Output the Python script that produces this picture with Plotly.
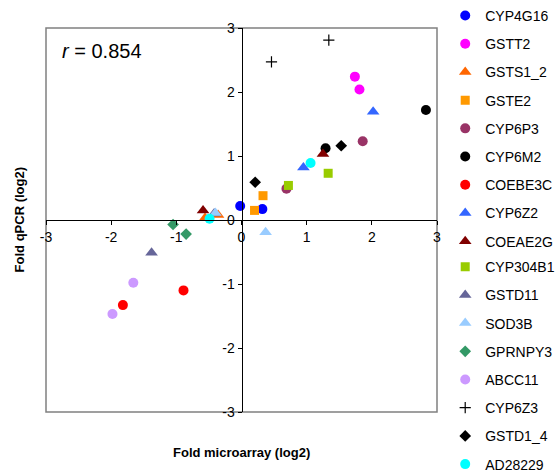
import plotly.graph_objects as go

genes = ["CYP4G16", "GSTT2", "GSTS1_2", "GSTE2", "CYP6P3", "CYP6M2", "COEBE3C",
         "CYP6Z2", "COEAE2G", "CYP304B1", "GSTD11", "SOD3B", "GPRNPY3", "ABCC11",
         "CYP6Z3", "GSTD1_4", "AD28229"]
microarray = [
    [-0.02, 0.32], [1.74, 1.81], [-0.36, -0.56], [0.33, 0.20], [1.86, 0.69],
    [2.83, 1.29], [-1.82, -0.89], [2.02, 0.95], [1.25, -0.59], [0.72, 1.33],
    [-1.38, -0.42], [0.37, -0.40], [-1.05, -0.85], [-1.66, -1.98], [0.46, 1.34],
    [0.21, 1.53], [1.06, -0.49],
]
qpcr = [
    [0.22, 0.17], [2.24, 2.04], [0.08, 0.03], [0.38, 0.15], [1.23, 0.49],
    [1.72, 1.12], [-1.33, -1.10], [1.69, 0.82], [1.03, 0.15], [0.54, 0.73],
    [-0.51, 0.10], [-0.19, 0.11], [-0.07, -0.22], [-0.98, -1.47], [2.47, 2.81],
    [0.59, 1.16], [0.89, 0.02],
]
colors = ["#0000FF", "#FF00FF", "#FF6600", "#FF9900", "#993366", "#000000", "#FF0000",
          "#3366FF", "#800000", "#99CC00", "#666699", "#99CCFF", "#339966", "#CC99FF",
          "#000000", "#000000", "#00FFFF"]
symbols = ["circle", "circle", "triangle-up", "square", "circle", "circle", "circle",
           "triangle-up", "triangle-up", "square", "triangle-up", "triangle-up", "diamond",
           "circle", "cross-thin", "diamond", "circle"]
ticks = [-3, -2, -1, 0, 1, 2, 3]
r_text = "<i>r</i> = 0.854"

font = "Arial, Liberation Sans, sans-serif"
fig = go.Figure()
for i, g in enumerate(genes):
    sym = symbols[i]
    size = {"circle": 10, "triangle-up": 11, "square": 9, "diamond": 9, "cross-thin": 8}[sym]
    marker = dict(symbol=sym, size=size, color=colors[i],
                  line=dict(width=1.2 if sym == "cross-thin" else 0, color=colors[i]))
    fig.add_trace(go.Scatter(x=microarray[i], y=qpcr[i], mode="markers", name=g,
                             legendgroup=g, marker=marker,
                             legend="legend" if i < 9 else "legend2"))

fig.add_shape(type="rect", xref="paper", yref="paper", x0=0, x1=1, y0=0, y1=1,
              line=dict(color="#808080", width=1.5), layer="below")
fig.add_annotation(x=0.035, y=0.94, xref="paper", yref="paper", text=r_text,
                   showarrow=False, xanchor="left", yanchor="middle",
                   font=dict(family=font, size=20, color="black"))
fig.add_annotation(x=0.5, y=-0.08, xref="paper", yref="paper", text="<b>Fold microarray (log2)</b>",
                   showarrow=False, xanchor="center", yanchor="top",
                   font=dict(family=font, size=13, color="black"))
fig.add_annotation(x=-0.068, y=0.5, xref="paper", yref="paper", text="<b>Fold qPCR (log2)</b>",
                   showarrow=False, textangle=-90, xanchor="center", yanchor="middle",
                   font=dict(family=font, size=13, color="black"))

axis_common = dict(range=[-3.0, 3.0], tickvals=ticks, ticktext=[str(t) for t in ticks],
                   showgrid=False, zeroline=False, showline=True, linecolor="black",
                   linewidth=1, ticks="outside", ticklen=4, tickcolor="black",
                   anchor="free", position=0.5,
                   tickfont=dict(family=font, size=14, color="black"))
legend_common = dict(x=1.021, xanchor="left", yanchor="top",
                     font=dict(family=font, size=14, color="black"),
                     tracegroupgap=7, traceorder="grouped", itemwidth=30,
                     bgcolor="rgba(0,0,0,0)", maxheight=470)
fig.update_layout(
    width=560, height=472,
    margin=dict(l=46, r=123, t=28, b=60, autoexpand=False),
    paper_bgcolor="white", plot_bgcolor="white",
    xaxis=axis_common,
    yaxis=axis_common,
    legend=dict(y=1.073, **legend_common),
    legend2=dict(y=0.419, **legend_common),
    showlegend=True,
)
fig.write_html("out.html")
